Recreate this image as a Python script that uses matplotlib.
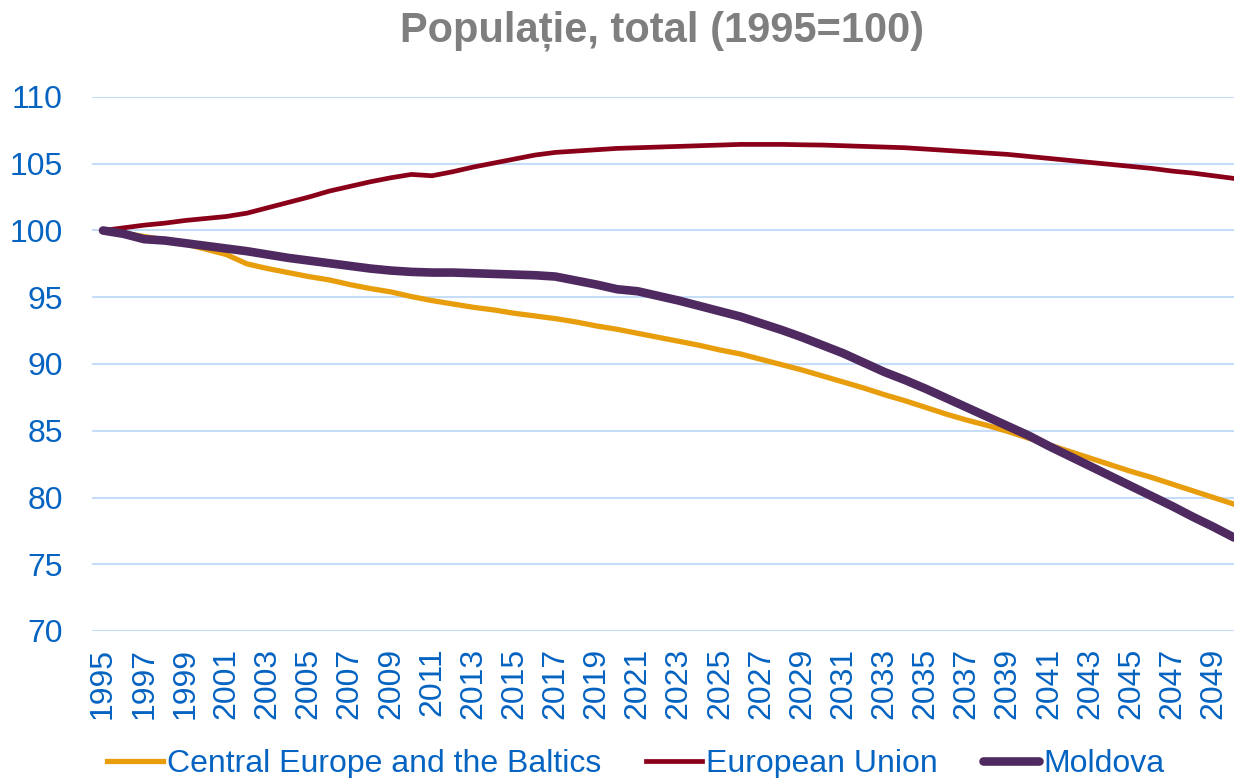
import matplotlib
matplotlib.use("Agg")
import matplotlib.pyplot as plt

plt.rcParams["font.family"] = ["Liberation Sans", "DejaVu Sans"]

years = list(range(1995, 2051))

central_europe = [
    100.0, 99.8, 99.55, 99.3, 99.0, 98.6, 98.2, 97.5, 97.15, 96.85,
    96.55, 96.3, 95.95, 95.65, 95.4, 95.05, 94.75, 94.5, 94.25, 94.05,
    93.8, 93.6, 93.4, 93.15, 92.85, 92.6, 92.3, 92.0, 91.7, 91.4,
    91.05, 90.75, 90.35, 89.95, 89.55, 89.1, 88.65, 88.2, 87.7, 87.25,
    86.75, 86.25, 85.8, 85.4, 84.95, 84.45, 83.95, 83.45, 82.95, 82.45,
    81.95, 81.5, 81.0, 80.5, 80.0, 79.5,
]
european_union = [
    100.0, 100.2, 100.4, 100.55, 100.75, 100.9, 101.05, 101.3, 101.7, 102.1,
    102.5, 102.95, 103.3, 103.65, 103.95, 104.2, 104.1, 104.4, 104.75, 105.05,
    105.35, 105.65, 105.85, 105.95, 106.05, 106.15, 106.2, 106.25, 106.3, 106.35,
    106.4, 106.45, 106.45, 106.45, 106.42, 106.4, 106.35, 106.3, 106.25, 106.2,
    106.1, 106.0, 105.9, 105.8, 105.7, 105.55, 105.4, 105.25, 105.1, 104.95,
    104.8, 104.65, 104.45, 104.3, 104.1, 103.9,
]
moldova = [
    100.0, 99.75, 99.35, 99.25, 99.05, 98.85, 98.65, 98.45, 98.2, 97.95,
    97.75, 97.55, 97.35, 97.15, 97.0, 96.9, 96.85, 96.85, 96.8, 96.75,
    96.7, 96.65, 96.55, 96.25, 95.95, 95.6, 95.45, 95.1, 94.75, 94.35,
    93.95, 93.55, 93.05, 92.55, 92.0, 91.4, 90.8, 90.1, 89.4, 88.8,
    88.15, 87.45, 86.75, 86.05, 85.35, 84.65, 83.85, 83.1, 82.35, 81.6,
    80.85, 80.1, 79.35, 78.55, 77.8, 77.0,
]

tick_blue = "#0563C1"

fig = plt.figure(figsize=(12.34, 7.78), dpi=100)
ax = fig.add_axes([92 / 1234, 1 - 631 / 778, 1142 / 1234, 534 / 778])

l1, = ax.plot(years, central_europe, color="#E89E0C", lw=3.8,
              label="Central Europe and the Baltics", zorder=3)
l2, = ax.plot(years, european_union, color="#8B0019", lw=3.4,
              label="European Union", zorder=3)
l3, = ax.plot(years, moldova, color="#4F2A61", lw=6.2,
              label="Moldova", zorder=4, solid_capstyle="round")

ax.set_ylim(70, 110)
ax.set_xlim(1994.465, 2050)
ax.set_yticks(range(70, 111, 5))
ax.set_xticks(range(1995, 2050, 2))
ax.set_xticklabels([str(y) for y in range(1995, 2050, 2)], rotation=90)
ax.tick_params(axis="both", length=0, labelsize=23, labelcolor=tick_blue)
ax.tick_params(axis="y", pad=21)
ax.tick_params(axis="x", pad=12)
ax.grid(axis="y", color="#C6DDF7", lw=1.5, zorder=0)
for s in ax.spines.values():
    s.set_visible(False)

fig.text(662 / 1234, 1 - 31 / 778, "Populație, total (1995=100)",
         ha="center", va="center", fontsize=30, fontweight="bold",
         color="#7F7F7F")

fig.legend(handles=[l1, l2, l3], loc="center left",
           bbox_to_anchor=(94 / 1234, 1 - 764 / 778), ncol=3,
           frameon=False, fontsize=23, labelcolor=tick_blue,
           handlelength=1.75, handletextpad=0.14, columnspacing=1.4,
           borderaxespad=0)

fig.savefig("out.png", dpi=100)
